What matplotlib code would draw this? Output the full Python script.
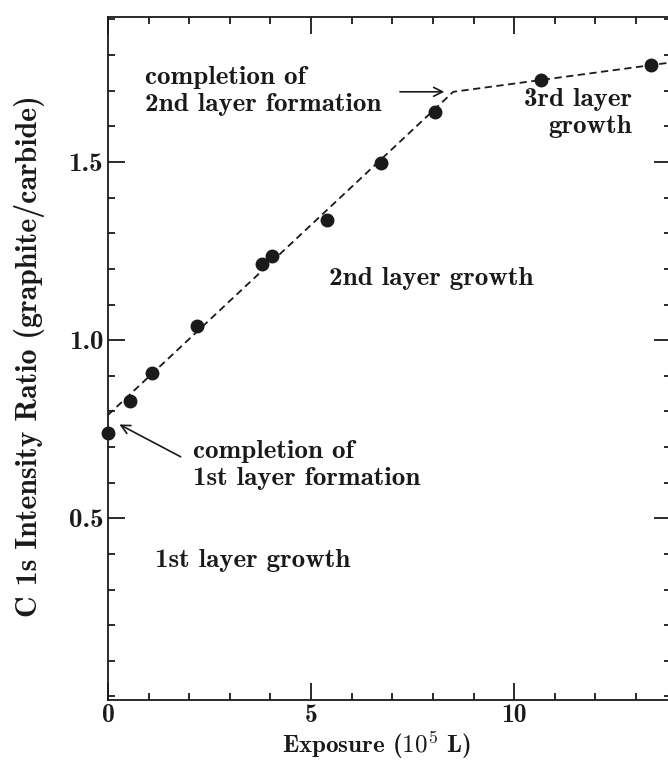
import matplotlib
matplotlib.use('Agg')
import matplotlib.pyplot as plt
from matplotlib.ticker import MultipleLocator

# measured points: exposure (10^5 L) vs C 1s ratio
exposure = [0.0, 0.54, 1.09, 2.2, 3.8, 4.05, 5.38, 6.72, 8.05, 10.67, 13.38]
ratio = [0.739, 0.829, 0.907, 1.04, 1.213, 1.236, 1.337, 1.497, 1.64, 1.73, 1.772]

# dashed guide lines (two linear regimes, kink at 2nd layer completion)
fit_x = [0.0, 8.5, 13.9]
fit_y = [0.79, 1.697, 1.78]

plt.rcParams['font.family'] = ['cmb10', 'DejaVu Serif']
plt.rcParams['mathtext.fontset'] = 'cm'
plt.rcParams['axes.unicode_minus'] = False

ink = '#1a1a1a'

fig = plt.figure(figsize=(6.68, 7.61), dpi=100)
ax = fig.add_axes([108 / 668, 61 / 761, 1.005 - 108 / 668, 683 / 761])

ax.plot(fit_x, fit_y, color=ink, lw=1.3, dashes=(4, 2.5))
ax.plot(exposure, ratio, 'o', color=ink, ms=9, clip_on=False)

ax.set_xlim(0, 13.87)
ax.set_ylim(-0.01, 1.907)

ax.xaxis.set_minor_locator(MultipleLocator(1))
ax.yaxis.set_minor_locator(MultipleLocator(0.1))
ax.set_yticks([0.5, 1.0, 1.5])
ax.set_yticklabels(['0.5', '1.0', '1.5'])
ax.set_xticks([0, 5, 10])
ax.set_xticklabels(['0', '5', '10'])

ax.tick_params(which='both', direction='in', top=True, right=True,
               colors=ink, labelsize=19.5, width=1.3)
ax.tick_params(axis='x', pad=3, labelsize=18.5)
ax.tick_params(axis='y', pad=3.5)
ax.tick_params(which='major', length=12)
ax.tick_params(which='minor', length=5)
for s in ax.spines.values():
    s.set_linewidth(1.3)
    s.set_color(ink)

ax.set_xlabel(r'Exposure ($\mathbf{10^{5}}$ L)', fontsize=18, color=ink)
ax.xaxis.set_label_coords(0.476, -0.044)
ax.set_ylabel('C 1s Intensity Ratio (graphite/carbide)', fontsize=21.5,
              color=ink)
ax.yaxis.set_label_coords(-0.112, 0.504)

fs = 19.5
ls = 1.2
ax.text(0.91, 1.70, 'completion of\n2nd layer formation', fontsize=fs,
        color=ink, ha='left', va='center', linespacing=ls)
ax.annotate('', xy=(8.35, 1.697), xytext=(7.12, 1.697),
            arrowprops=dict(arrowstyle='->', lw=1.2, color=ink, mutation_scale=16))
ax.text(7.96, 1.174, '2nd layer growth', fontsize=fs, color=ink,
        ha='center', va='center')
ax.text(12.9, 1.638, '3rd layer\ngrowth', fontsize=fs, color=ink,
        ha='right', va='center', multialignment='right', linespacing=ls)
ax.text(2.09, 0.649, 'completion of\n1st layer formation', fontsize=fs,
        color=ink, ha='left', va='center', linespacing=ls)
ax.annotate('', xy=(0.22, 0.767), xytext=(1.85, 0.669),
            arrowprops=dict(arrowstyle='->', lw=1.2, color=ink, mutation_scale=16))
ax.text(1.16, 0.382, '1st layer growth', fontsize=fs, color=ink,
        ha='left', va='center')

fig.savefig('out.png', dpi=100)
